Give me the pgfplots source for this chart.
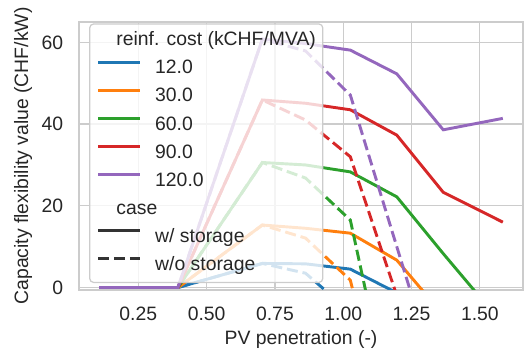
\documentclass[border=0pt]{standalone}
\usepackage{fontspec}
\setmainfont{Liberation Sans}
\usepackage{pgfplots}
\pgfplotsset{compat=1.18}
\definecolor{c0}{HTML}{1F77B4}
\definecolor{c1}{HTML}{FF7F0E}
\definecolor{c2}{HTML}{2CA02C}
\definecolor{c3}{HTML}{D62728}
\definecolor{c4}{HTML}{9467BD}
\definecolor{cs}{HTML}{333333}
\definecolor{gridc}{HTML}{CCCCCC}
\definecolor{txt}{HTML}{262626}
\begin{document}
\begin{tikzpicture}[font=\fontsize{14}{17}\selectfont]
\useasboundingbox (-56.9bp,-46.1bp) rectangle (320.4bp,208.8bp);
\begin{axis}[
  at={(0,0)}, anchor=south west,
  scale only axis, width=319.7bp, height=193bp,
  xmin=0.033, xmax=1.658, ymin=-0.6, ymax=65,
  xtick={0.25,0.5,0.75,1.0,1.25,1.5},
  xticklabels={0.25,0.50,0.75,1.00,1.25,1.50},
  ytick={0,20,40,60},
  grid=major,
  major grid style={gridc, line width=0.9bp},
  axis line style={gridc, line width=0.9bp},
  major tick length=0pt,
  tick style={draw=none},
  /pgf/number format/assume math mode=true,
  ticklabel style={text=txt, font=\fontsize{14}{17}\selectfont},
  xticklabel style={anchor=north, inner sep=0pt, yshift=-12bp},
  yticklabel style={anchor=east, inner sep=0pt, xshift=-11.3bp},
  xlabel={PV penetration (-)},
  ylabel={Capacity flexibility value (CHF/kW)},
  xlabel style={at={(axis description cs:0.5,-0.205)}, anchor=base, text=txt, inner sep=0pt},
  ylabel style={at={(axis description cs:-0.1148,0.5)}, anchor=base, text=txt, inner sep=0pt},
  legend style={at={(axis description cs:0.0225,0.995)}, anchor=north west,
    fill=white, fill opacity=0.8, text opacity=1, draw=gridc, draw opacity=1,
    line width=0.9bp, rounded corners=3bp, inner xsep=5bp, inner ysep=5.8bp,
    row sep=7.2bp, column sep=9.9bp,
    nodes={inner sep=0pt, text height=10bp, text depth=3bp, text=txt, font=\fontsize{14}{17}\selectfont},
    cells={anchor=west}},
  legend cell align=left,
  legend image code/.code={\draw[line width=2.1bp, #1] (0bp,5bp) -- (30.2bp,5bp);},
  every axis plot/.append style={line width=2.1bp},
  wo/.style={dash pattern=on 8bp off 3.5bp},
]
\addlegendimage{empty legend}\addlegendentry{\hspace*{-27.9bp}reinf. cost (kCHF/MVA)}
\addlegendimage{c0}\addlegendentry{12.0}
\addlegendimage{c1}\addlegendentry{30.0}
\addlegendimage{c2}\addlegendentry{60.0}
\addlegendimage{c3}\addlegendentry{90.0}
\addlegendimage{c4}\addlegendentry{120.0}
\addlegendimage{empty legend}\addlegendentry{\hspace*{-27.9bp}case}
\addlegendimage{cs}\addlegendentry{w/ storage}
\addlegendimage{cs, dash pattern=on 8bp off 3.5bp}\addlegendentry{w/o storage}

% reinf. cost 12.0
\addplot[c0, forget plot] coordinates {(0.107,0) (0.395,0) (0.704,5.9) (0.862,5.8) (1.026,4.5) (1.196,-1.3)};
\addplot[c0, wo, forget plot] coordinates {(0.107,0) (0.395,0) (0.704,5.9) (0.862,3.5) (1.026,-6)};
% 30.0
\addplot[c1, forget plot] coordinates {(0.107,0) (0.395,0) (0.704,15.3) (0.862,14.5) (1.026,13.3) (1.196,6.7) (1.366,-6.7)};
\addplot[c1, wo, forget plot] coordinates {(0.107,0) (0.395,0) (0.704,15.3) (0.862,12.1) (1.026,1.8) (1.196,-44)};
% 60.0
\addplot[c2, forget plot] coordinates {(0.107,0) (0.395,0) (0.704,30.6) (0.862,30.0) (1.026,28.3) (1.196,22.2) (1.366,8.3) (1.584,-9)};
\addplot[c2, wo, forget plot] coordinates {(0.107,0) (0.395,0) (0.704,30.6) (0.862,26.8) (1.026,16.5) (1.196,-36)};
% 90.0
\addplot[c3, forget plot] coordinates {(0.107,0) (0.395,0) (0.704,45.9) (0.862,45.1) (1.026,43.5) (1.196,37.3) (1.366,23.3) (1.584,16.0)};
\addplot[c3, wo, forget plot] coordinates {(0.107,0) (0.395,0) (0.704,45.9) (0.862,41.0) (1.026,32.0) (1.196,-2)};
% 120.0
\addplot[c4, forget plot] coordinates {(0.107,0) (0.395,0) (0.704,60.8) (0.862,59.7) (1.026,58.1) (1.196,52.3) (1.366,38.6) (1.584,41.4)};
\addplot[c4, wo, forget plot] coordinates {(0.107,0) (0.395,0) (0.704,60.8) (0.862,57.9) (1.026,47.1) (1.196,10.0) (1.366,-27)};
\end{axis}
\end{tikzpicture}
\end{document}
